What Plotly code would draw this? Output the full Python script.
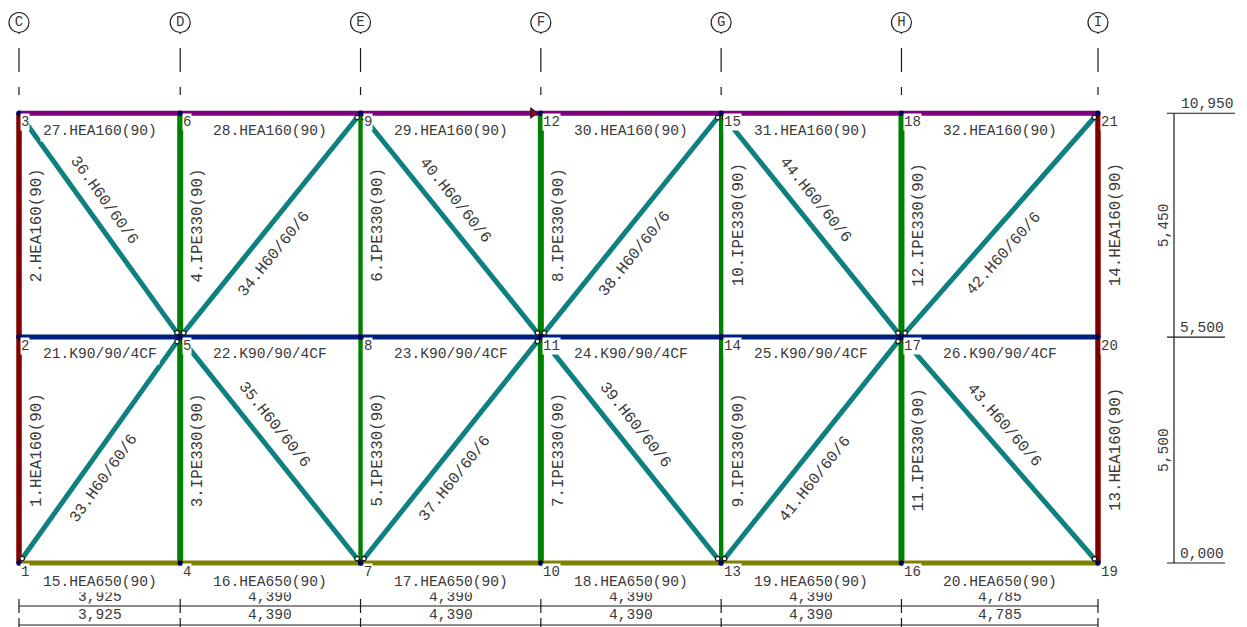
import math
import plotly.graph_objects as go

# ---- data -------------------------------------------------------------
grid_names = ["C", "D", "E", "F", "G", "H", "I"]
bay_spans = [3925, 4390, 4390, 4390, 4390, 4785]
level_heights = [0, 5500, 10950]
bay_labels = ["3,925", "4,390", "4,390", "4,390", "4,390", "4,785"]
storey_labels = ["5,500", "5,450"]
level_labels = ["0,000", "5,500", "10,950"]

# member number -> (start node, end node)
column_members = {1: (1, 2), 2: (2, 3), 3: (4, 5), 4: (5, 6), 5: (7, 8), 6: (8, 9), 7: (10, 11),
                  8: (11, 12), 9: (13, 14), 10: (14, 15), 11: (16, 17), 12: (17, 18),
                  13: (19, 20), 14: (20, 21)}
edge_columns = [1, 2, 13, 14]
slim_columns = [5, 6, 9, 10]
beam_bottom = {15: (1, 4), 16: (4, 7), 17: (7, 10), 18: (10, 13), 19: (13, 16), 20: (16, 19)}
beam_middle = {21: (2, 5), 22: (5, 8), 23: (8, 11), 24: (11, 14), 25: (14, 17), 26: (17, 20)}
beam_top = {27: (3, 6), 28: (6, 9), 29: (9, 12), 30: (12, 15), 31: (15, 18), 32: (18, 21)}
brace_members = {33: (1, 5), 34: (5, 9), 35: (5, 7), 36: (3, 5), 37: (7, 11), 38: (11, 15),
                 39: (11, 13), 40: (9, 11), 41: (13, 17), 42: (17, 21), 43: (17, 19), 44: (15, 17)}
edge_column_section = "HEA160(90)"
inner_column_section = "IPE330(90)"
bottom_section = "HEA650(90)"
middle_section = "K90/90/4CF"
top_section = "HEA160(90)"
brace_section = "H60/60/6"

# ---- scale ------------------------------------------------------------
W, H = 1247, 627
PX = 1079 / sum(bay_spans)          # pixels per mm
X0, Y0 = 19, 563                    # pixels of the origin
FONT = "Liberation Mono"
FS = 14.6
FS_ROT = 15.8
INK = "#3a3a3a"
LINE = "#1a1a1a"


def mmx(px):
    return (px - X0) / PX


def mmy(py):
    return (Y0 - py) / PX


grid_x = [0]
for s in bay_spans:
    grid_x.append(grid_x[-1] + s)

nodes = {}
n = 1
for gx in grid_x:
    for lv in level_heights:
        nodes[n] = (gx, lv)
        n += 1

fig = go.Figure()


def add_members(members, color, width):
    for m, (a, b) in members.items():
        w = width(m) if callable(width) else width
        fig.add_trace(go.Scatter(x=[nodes[a][0], nodes[b][0]], y=[nodes[a][1], nodes[b][1]],
                                 mode="lines", line=dict(color=color, width=w),
                                 hoverinfo="skip", showlegend=False))


def seg(x0, y0, x1, y1, color=LINE, width=1.2):
    fig.add_shape(type="line", x0=x0, y0=y0, x1=x1, y1=y1, xref="x", yref="y",
                  line=dict(color=color, width=width))


annotations = []


def label(x, y, text, angle=0, bg=None, size=FS, color=INK, pad=0):
    annotations.append(dict(x=x, y=y, xref="x", yref="y", text=text, textangle=angle, showarrow=False,
                            font=dict(family=FONT, size=size, color=color),
                            bgcolor=bg, borderpad=pad, xanchor="center", yanchor="middle"))


# grid lines with bubbles
for gx in grid_x:
    seg(gx, mmy(32), gx, mmy(34))
    seg(gx, mmy(48), gx, mmy(72))
    seg(gx, mmy(87), gx, mmy(95))

fig.add_trace(go.Scatter(x=grid_x, y=[mmy(22.5)] * len(grid_x), mode="markers+text", text=grid_names,
                         textposition="middle center",
                         textfont=dict(family=FONT, size=14, color=INK),
                         marker=dict(size=20, color="white", line=dict(color="#222222", width=1.2)),
                         hoverinfo="skip", showlegend=False))

# members
add_members(brace_members, "#0f8080", 5)
add_members({k: v for k, v in column_members.items() if k in edge_columns}, "#800000", 5.5)
add_members({k: v for k, v in column_members.items() if k not in edge_columns}, "#008000",
            lambda m: 4.4 if m in slim_columns else 6)
add_members(beam_bottom, "#808000", 5)
add_members(beam_middle, "#00207f", 5)
add_members(beam_top, "#800080", 5)

# arrow on member 29 and node details
fig.add_trace(go.Scatter(x=[mmx(533)], y=[mmy(113)], mode="markers",
                         marker=dict(symbol="triangle-right", size=9, color="#a00020",
                                     line=dict(color="#111111", width=1)),
                         hoverinfo="skip", showlegend=False))

ring_x, ring_y = [], []
for m, (a, b) in brace_members.items():
    ax, ay = nodes[a]
    bx, by = nodes[b]
    d = math.hypot(bx - ax, by - ay)
    ux, uy = (bx - ax) / d, (by - ay) / d
    ring = 5.5 / PX
    ring_x += [ax + ux * ring, bx - ux * ring]
    ring_y += [ay + uy * ring, by - uy * ring]
fig.add_trace(go.Scatter(x=ring_x, y=ring_y, mode="markers",
                         marker=dict(size=4.5, color="white", line=dict(color="#111111", width=1.2)),
                         hoverinfo="skip", showlegend=False))
fig.add_trace(go.Scatter(x=[p[0] for p in nodes.values()], y=[p[1] for p in nodes.values()],
                         mode="markers", marker=dict(size=5.5, color="#00005a"),
                         hoverinfo="skip", showlegend=False))

# bay dimension chains
for row_y, tick0, tick1, text_y in ((606, 599, 613, 597), (625, 618, 627, 615)):
    seg(0, mmy(row_y), grid_x[-1], mmy(row_y))
    for gx in grid_x:
        seg(gx, mmy(tick0), gx, mmy(tick1))
    for i, t in enumerate(bay_labels):
        label((grid_x[i] + grid_x[i + 1]) / 2, mmy(text_y), t)

# level dimension chain
dim_x = mmx(1174)
seg(dim_x, level_heights[0], dim_x, level_heights[-1])
for lv, t in zip(level_heights, level_labels):
    top = lv == level_heights[-1]
    seg(mmx(1167), lv, mmx(1235 if top else 1225), lv)
    label(mmx(1207 if top else 1202), lv + 9 / PX, t)
for i, t in enumerate(storey_labels):
    label(mmx(1164), (level_heights[i] + level_heights[i + 1]) / 2, t, angle=-90)

# member labels
for m, (a, b) in column_members.items():
    sec = edge_column_section if m in edge_columns else inner_column_section
    label(nodes[a][0] + 18 / PX, (nodes[a][1] + nodes[b][1]) / 2, f"{m}.{sec}", angle=-90, size=FS_ROT)
for group, sec, off in ((beam_bottom, bottom_section, -19), (beam_middle, middle_section, -17),
                        (beam_top, top_section, -18)):
    for m, (a, b) in group.items():
        label((nodes[a][0] + nodes[b][0]) / 2, nodes[a][1] + off / PX, f"{m}.{sec}", bg="white", pad=2)
for m, (a, b) in brace_members.items():
    ax, ay = nodes[a]
    bx, by = nodes[b]
    ang = math.degrees(math.atan2(by - ay, bx - ax))
    if ang > 90:
        ang -= 180
    if ang < -90:
        ang += 180
    rising = ang > 0
    off = -29 if rising else 25
    label((ax + bx) / 2 + 4 / PX, (ay + by) / 2 + off / PX, f"{m}.{brace_section}", angle=-ang, size=FS_ROT)

# node labels
for n, (nx, ny) in nodes.items():
    dx = 6 if n <= 3 else 7
    dx += (len(str(n)) - 1) * 4
    label(nx + dx / PX, ny - 9 / PX, str(n), bg="white", size=14)

fig.update_layout(
    width=W, height=H, margin=dict(l=0, r=0, t=0, b=0), autosize=False,
    paper_bgcolor="white", plot_bgcolor="white", showlegend=False,
    annotations=annotations,
    xaxis=dict(range=[mmx(0), mmx(W)], visible=False, fixedrange=True),
    yaxis=dict(range=[mmy(H), mmy(0)], visible=False, fixedrange=True),
)
fig.write_html("out.html", post_script="document.body.style.margin='0';document.body.style.overflow='hidden';",
               config={"displayModeBar": False})
